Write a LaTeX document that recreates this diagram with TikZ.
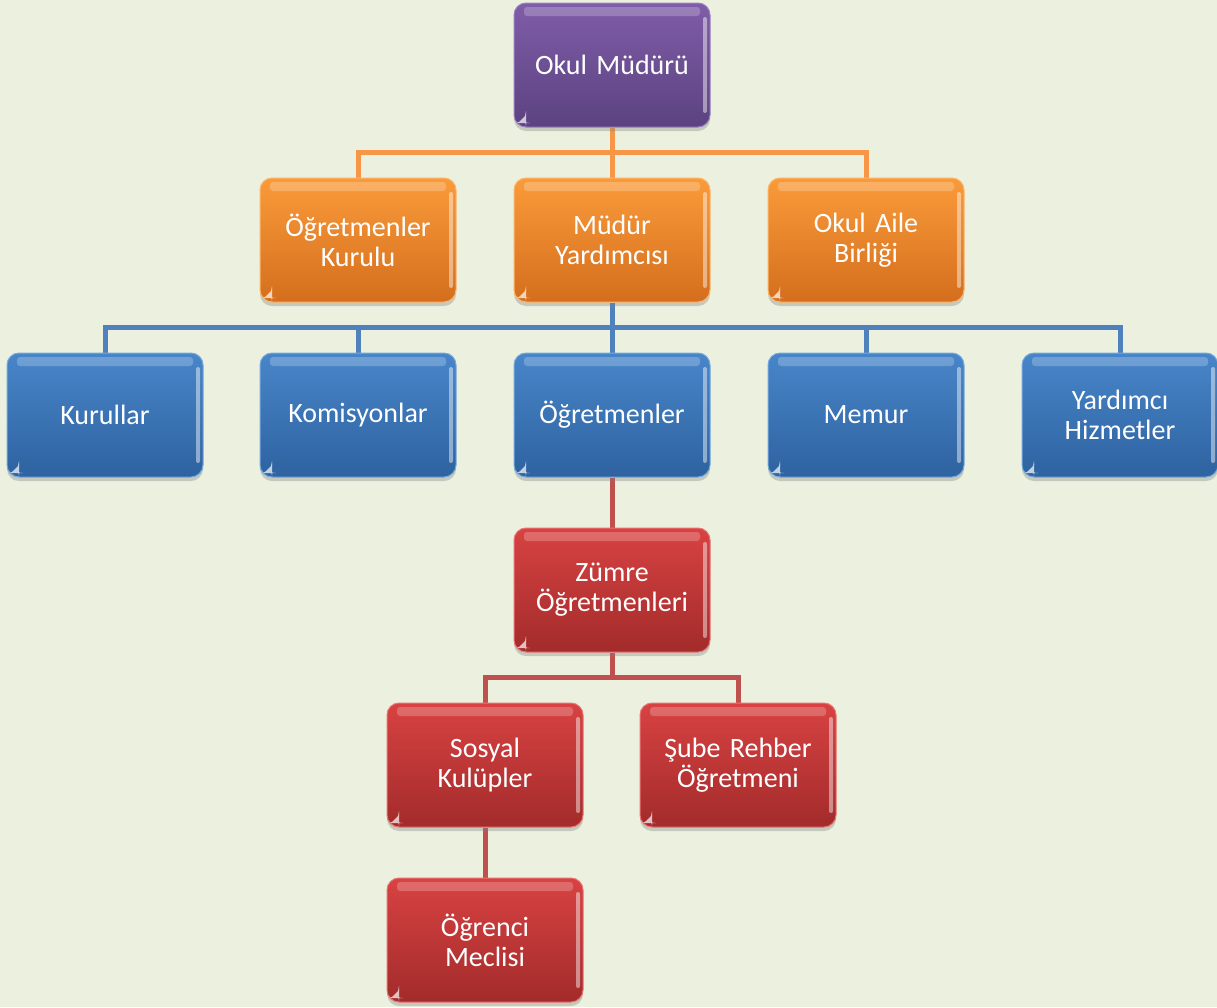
\documentclass[tikz,border=0pt]{standalone}
\usepackage{fontspec}
\setmainfont{Carlito}[WordSpace=0.7]
\usetikzlibrary{shadows,calc,backgrounds}
\definecolor{bgc}{HTML}{EBF1DE}
\definecolor{purT}{HTML}{7F5DA8}\definecolor{purB}{HTML}{5C4280}\definecolor{purE}{HTML}{9C80C2}
\definecolor{orT}{HTML}{FA9B3A}\definecolor{orB}{HTML}{D46E1D}\definecolor{orE}{HTML}{FDB56A}\definecolor{orL}{HTML}{F79646}
\definecolor{blT}{HTML}{4886C9}\definecolor{blB}{HTML}{2E62A0}\definecolor{blE}{HTML}{76A8E0}\definecolor{blL}{HTML}{4F81BD}
\definecolor{rdT}{HTML}{D84242}\definecolor{rdB}{HTML}{A32B2B}\definecolor{rdE}{HTML}{EA7373}\definecolor{rdL}{HTML}{C0504D}
\tikzset{
  box/.style={rounded corners=12pt, minimum width=196pt, minimum height=124pt,
    text width=190pt, align=center, text=white, inner sep=0pt,
    font=\fontsize{28}{30}\selectfont,
    drop shadow={shadow xshift=0pt, shadow yshift=-4pt, opacity=0.35},
    path picture={
      \fill[white,opacity=0.22,rounded corners=3pt] ($(path picture bounding box.north west)+(10,4)$) rectangle ($(path picture bounding box.north east)+(-10,13)$);
      \fill[white,opacity=0.45,rounded corners=2pt] ($(path picture bounding box.north east)+(-7,14)$) rectangle ($(path picture bounding box.south east)+(-3,-14)$);
      \fill[white,opacity=0.7] ($(path picture bounding box.south west)+(4,-4)$) -- ++(8,0) -- ++(0,-8) -- cycle;
    }},
  pbox/.style={box, top color=purT, bottom color=purB, draw=purE, line width=1pt},
  obox/.style={box, top color=orT, bottom color=orB, draw=orE, line width=1pt},
  bbox/.style={box, top color=blT, bottom color=blB, draw=blE, line width=1pt},
  rbox/.style={box, top color=rdT, bottom color=rdB, draw=rdE, line width=1pt},
  conn/.style={line width=5pt},
}
\begin{document}
\begin{tikzpicture}[x=1pt,y=-1pt]
\useasboundingbox (0,0) rectangle (1217,1007);
\node[pbox] (mud) at (612,65) {Okul Müdürü};
\node[obox] (ogk) at (358,240) {Öğretmenler\\Kurulu};
\node[obox] (myr) at (612,240) {Müdür\\Yardımcısı};
\node[obox] (oab) at (866,240) {Okul Aile\\Birliği};
\node[bbox] (kur) at (105,415) {Kurullar};
\node[bbox] (kom) at (358,415) {Komisyonlar};
\node[bbox] (ogr) at (612,415) {Öğretmenler};
\node[bbox] (mem) at (866,415) {Memur};
\node[bbox] (yhz) at (1120,415) {Yardımcı\\Hizmetler};
\node[rbox] (zum) at (612,590) {Zümre\\Öğretmenleri};
\node[rbox] (sos) at (485,765) {Sosyal\\Kulüpler};
\node[rbox] (sub) at (738,765) {Şube Rehber\\Öğretmeni};
\node[rbox] (ogm) at (485,940) {Öğrenci\\Meclisi};
\begin{scope}[on background layer]
\fill[bgc] (0,0) rectangle (1217,1007);
\draw[conn,orL] (mud.south) -- ++(0,25) -| (ogk.north);
\draw[conn,orL] (mud.south) -- ++(0,25) -| (oab.north);
\draw[conn,orL] (mud.south) -- (myr.north);
\draw[conn,blL] (myr.south) -- ++(0,25) -| (kur.north);
\draw[conn,blL] (myr.south) -- ++(0,25) -| (kom.north);
\draw[conn,blL] (myr.south) -- ++(0,25) -| (mem.north);
\draw[conn,blL] (myr.south) -- ++(0,25) -| (yhz.north);
\draw[conn,blL] (myr.south) -- (ogr.north);
\draw[conn,rdL] (ogr.south) -- (zum.north);
\draw[conn,rdL] (zum.south) -- ++(0,25) -| (sos.north);
\draw[conn,rdL] (zum.south) -- ++(0,25) -| (sub.north);
\draw[conn,rdL] (sos.south) -- (ogm.north);
\end{scope}
\end{tikzpicture}
\end{document}
